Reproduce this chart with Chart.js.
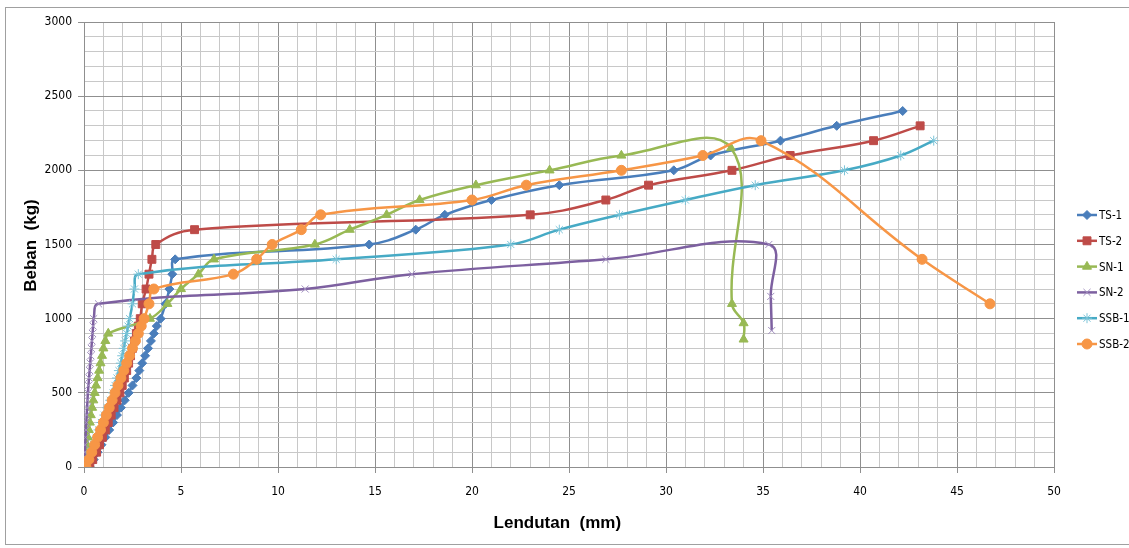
<!DOCTYPE html>
<html>
<head>
<meta charset="utf-8">
<title>Beban - Lendutan</title>
<script src="https://cdn.jsdelivr.net/npm/chart.js@4.4.1/dist/chart.umd.min.js"></script>
<style>
  html, body { margin: 0; padding: 0; background: #ffffff; }
  #wrap { width: 1129px; height: 548px; position: relative; }
</style>
</head>
<body>
<div id="wrap"><canvas id="chart" width="1129" height="548"></canvas></div>
<script>
// Load (kg) vs deflection (mm) for each specimen
const ts1Load = [0,50,100,150,200,250,300,350,400,450,500,550,600,650,700,750,800,850,900,950,1000,1100,1200,1300,1400,1500,1600,1700,1800,1900,2000,2100,2200,2300,2400];
const ts1Defl = [0.3,0.5,0.7,0.9,1.1,1.3,1.5,1.7,1.9,2.1,2.3,2.5,2.7,2.85,3.0,3.15,3.3,3.45,3.6,3.75,3.95,4.2,4.4,4.55,4.7,14.7,17.1,18.6,21.0,24.5,30.4,32.3,35.9,38.8,42.2];

const ts2Load = [0,50,100,150,200,250,300,350,400,450,500,550,600,650,700,750,800,850,900,950,1000,1100,1200,1300,1400,1500,1600,1700,1800,1900,2000,2100,2200,2300];
const ts2Defl = [0.3,0.45,0.65,0.8,0.95,1.1,1.25,1.4,1.55,1.7,1.85,1.97,2.08,2.2,2.3,2.4,2.5,2.6,2.7,2.8,2.9,3.0,3.2,3.35,3.5,3.7,5.7,23.0,26.9,29.1,33.4,36.4,40.7,43.1];

const sn1Load = [0,50,100,150,200,250,300,350,400,450,500,550,600,650,700,750,800,850,900,1000,1100,1200,1300,1400,1500,1600,1700,1800,1900,2000,2100,2150,1100,970,860];
const sn1Defl = [0.0,0.05,0.1,0.15,0.2,0.25,0.3,0.35,0.42,0.48,0.55,0.62,0.7,0.78,0.85,0.93,1.0,1.1,1.25,3.4,4.3,5.0,5.9,6.7,11.9,13.7,15.6,17.3,20.2,24.0,27.7,33.35,33.4,34.0,34.0];

const sn2Load = [0,50,100,150,200,250,300,350,400,450,500,550,600,650,700,750,800,850,900,950,1000,1100,1200,1300,1400,1500,1150,920];
const sn2Defl = [0.0,0.02,0.04,0.06,0.08,0.1,0.12,0.14,0.16,0.18,0.2,0.23,0.26,0.29,0.32,0.35,0.38,0.41,0.44,0.47,0.5,0.75,11.4,16.9,26.9,35.3,35.4,35.45];

const ssb1Load = [0,50,100,150,200,250,300,350,400,450,500,550,600,650,700,750,800,850,900,950,1000,1100,1200,1300,1400,1500,1600,1700,1800,1900,2000,2100,2200];
const ssb1Defl = [0.1,0.2,0.35,0.5,0.62,0.75,0.9,1.05,1.2,1.35,1.5,1.6,1.7,1.8,1.9,1.97,2.05,2.12,2.2,2.27,2.35,2.5,2.6,2.8,13.0,22.0,24.5,27.6,31.0,34.6,39.2,42.1,43.8];

const ssb2Load = [0,50,100,150,200,250,300,350,400,450,500,550,600,650,700,750,800,850,900,950,1000,1100,1200,1300,1400,1500,1600,1700,1800,1900,2000,2100,2200,1400,1100];
const ssb2Defl = [0.1,0.25,0.4,0.55,0.7,0.85,1.0,1.15,1.3,1.45,1.6,1.75,1.9,2.05,2.2,2.35,2.5,2.65,2.8,2.95,3.1,3.35,3.6,7.7,8.9,9.7,11.2,12.2,20.0,22.8,27.7,31.9,34.9,43.2,46.7];

const seriesNames = ['TS-1', 'TS-2', 'SN-1', 'SN-2', 'SSB-1', 'SSB-2'];
const xAxisTitle = 'Lendutan  (mm)';
const yAxisTitle = 'Beban  (kg)';
const xTickValues = [0, 5, 10, 15, 20, 25, 30, 35, 40, 45, 50];
const yTickValues = [0, 500, 1000, 1500, 2000, 2500, 3000];

const pairs = (xs, ys) => xs.map((x, i) => ({ x: x, y: ys[i] }));

const narrowFamily = "'DejaVu Sans Condensed', 'Liberation Sans', Arial, sans-serif";
const tickFont = { family: narrowFamily, size: 12 };
const titleFont = "bold 17px 'Liberation Sans', Arial, sans-serif";
const minorGrid = '#c8c8c8';
const majorGrid = '#8f8f8f';

function series(label, xs, ys, line, marker, style, radius, order) {
  return {
    label: label,
    data: pairs(xs, ys),
    showLine: true,
    tension: 0.4,
    borderColor: line,
    borderWidth: 2.5,
    backgroundColor: marker,
    pointStyle: style,
    pointRadius: radius,
    pointHoverRadius: radius,
    pointBackgroundColor: marker,
    pointBorderColor: marker,
    pointBorderWidth: 1,
    order: order
  };
}

const datasets = [
  series(seriesNames[0], ts1Defl, ts1Load, '#4a7ebb', '#4a7ebb', 'rectRot', 4.5, 6),
  series(seriesNames[1], ts2Defl, ts2Load, '#be4b48', '#be4b48', 'rect', 5.6, 5),
  series(seriesNames[2], sn1Defl, sn1Load, '#98b954', '#98b954', 'triangle', 5.2, 4),
  series(seriesNames[3], sn2Defl, sn2Load, '#7d60a0', '#a290c0', 'crossRot', 5, 3),
  series(seriesNames[4], ssb1Defl, ssb1Load, '#46aac5', '#7cc4d8', 'star', 5, 2),
  series(seriesNames[5], ssb2Defl, ssb2Load, '#f79646', '#f79646', 'circle', 5, 1)
];

// white page, outer frame and axis titles
const framePlugin = {
  id: 'frame',
  beforeDraw(chart) {
    const ctx = chart.ctx;
    ctx.save();
    ctx.fillStyle = '#ffffff';
    ctx.fillRect(0, 0, chart.width, chart.height);
    ctx.strokeStyle = '#a0a0a0';
    ctx.lineWidth = 1;
    ctx.strokeRect(5.5, 7.5, chart.width, chart.height - 11);
    ctx.restore();
  },
  afterDraw(chart) {
    const ctx = chart.ctx;
    const area = chart.chartArea;
    ctx.save();
    ctx.fillStyle = '#000000';
    ctx.font = titleFont;
    ctx.textAlign = 'center';
    ctx.textBaseline = 'middle';
    ctx.fillText(xAxisTitle, area.left + (area.right - area.left) * 0.488, 523);
    ctx.translate(31, (area.top + area.bottom) / 2 + 1);
    ctx.rotate(-Math.PI / 2);
    ctx.fillText(yAxisTitle, 0, 0);
    ctx.restore();
  }
};

// legend with a short line and the series marker
const legendX = 1077;
const legendTop = 215;
const legendStep = 25.8;
const legendPlugin = {
  id: 'sideLegend',
  afterDraw(chart) {
    const ctx = chart.ctx;
    chart.data.datasets.forEach((ds, i) => {
      const y = legendTop + i * legendStep;
      ctx.save();
      ctx.strokeStyle = ds.borderColor;
      ctx.lineWidth = ds.borderWidth;
      ctx.beginPath();
      ctx.moveTo(legendX, y);
      ctx.lineTo(legendX + 20, y);
      ctx.stroke();
      ctx.fillStyle = ds.pointBackgroundColor;
      ctx.strokeStyle = ds.pointBorderColor;
      ctx.lineWidth = ds.pointBorderWidth;
      Chart.helpers.drawPoint(ctx, {
        pointStyle: ds.pointStyle,
        radius: ds.pointRadius,
        borderWidth: ds.pointBorderWidth,
        rotation: 0
      }, legendX + 10, y);
      ctx.fillStyle = '#000000';
      ctx.font = '11.5px ' + narrowFamily;
      ctx.textAlign = 'left';
      ctx.textBaseline = 'middle';
      ctx.fillText(ds.label, legendX + 22, y + 1);
      ctx.restore();
    });
  }
};

new Chart(document.getElementById('chart'), {
  type: 'scatter',
  data: { datasets: datasets },
  options: {
    responsive: false,
    animation: false,
    devicePixelRatio: 1,
    layout: { padding: { top: 22, right: 75, left: 0, bottom: 0 } },
    plugins: {
      legend: { display: false },
      tooltip: { enabled: false }
    },
    scales: {
      x: {
        type: 'linear',
        min: 0,
        max: 50,
        afterFit(scale) { scale.height = 81; },
        afterBuildTicks(scale) {
          scale.ticks = [];
          for (let v = scale.min; v <= scale.max; v += 1) scale.ticks.push({ value: v });
        },
        ticks: {
          autoSkip: false,
          maxRotation: 0,
          padding: 12,
          color: '#000000',
          font: tickFont,
          callback: (v) => (xTickValues.includes(v) ? String(v) : '')
        },
        grid: {
          color: (c) => (xTickValues.includes(c.tick.value) ? majorGrid : minorGrid),
          tickColor: (c) => (xTickValues.includes(c.tick.value) ? majorGrid : 'rgba(0,0,0,0)'),
          tickLength: 6,
          lineWidth: 1
        },
        border: { color: majorGrid, width: 1 }
      },
      y: {
        type: 'linear',
        min: 0,
        max: 3000,
        afterFit(scale) { scale.width = 84; },
        afterBuildTicks(scale) {
          scale.ticks = [];
          for (let v = scale.min; v <= scale.max; v += 100) scale.ticks.push({ value: v });
        },
        ticks: {
          autoSkip: false,
          padding: 6,
          color: '#000000',
          font: tickFont,
          callback: (v) => (yTickValues.includes(v) ? String(v) : '')
        },
        grid: {
          color: (c) => (yTickValues.includes(c.tick.value) ? majorGrid : minorGrid),
          tickColor: (c) => (yTickValues.includes(c.tick.value) ? majorGrid : 'rgba(0,0,0,0)'),
          tickLength: 6,
          lineWidth: 1
        },
        border: { color: majorGrid, width: 1 }
      }
    }
  },
  plugins: [framePlugin, legendPlugin]
});
</script>
</body>
</html>
